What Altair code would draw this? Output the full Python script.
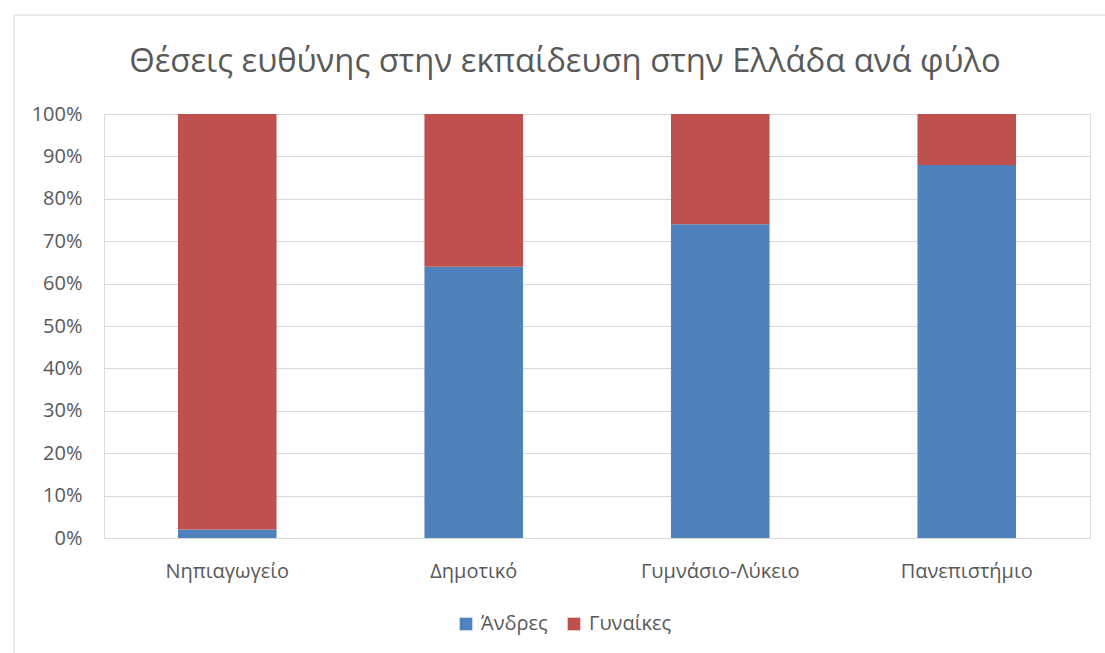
import altair as alt
import pandas as pd

categories = ["Νηπιαγωγείο", "Δημοτικό", "Γυμνάσιο-Λύκειο", "Πανεπιστήμιο"]
men = [2, 64, 74, 88]
women = [98, 36, 26, 12]
series = ["Άνδρες", "Γυναίκες"]
colors = ["#4f81bd", "#c0504d"]
title_text = "Θέσεις ευθύνης στην εκπαίδευση στην Ελλάδα ανά φύλο"
y_ticks = [0, 0.1, 0.2, 0.3, 0.4, 0.5, 0.6, 0.7, 0.8, 0.9, 1.0]

rows = []
for c, m, w in zip(categories, men, women):
    rows.append({"cat": c, "series": series[0], "value": m, "ord": 0})
    rows.append({"cat": c, "series": series[1], "value": w, "ord": 1})
df = pd.DataFrame(rows)

FONT = "Open Sans"
GREY = "#595959"

bars = alt.Chart(df).mark_bar().encode(
    x=alt.X("cat:N", sort=categories, title=None,
            scale=alt.Scale(paddingInner=0.6, paddingOuter=0.3),
            axis=alt.Axis(labelAngle=0, ticks=False, domainColor="#d9d9d9",
                          labelPadding=23, labelFontSize=20, labelColor=GREY,
                          labelFont=FONT, grid=False)),
    y=alt.Y("value:Q", stack="normalize", title=None,
            scale=alt.Scale(domain=[0, 1], nice=False),
            axis=alt.Axis(format=".0%", values=y_ticks, labelOverlap=False,
                          ticks=False, domain=False, gridColor="#d9d9d9",
                          labelPadding=22, labelFontSize=20, labelColor=GREY,
                          labelFont=FONT)),
    color=alt.Color("series:N", sort=series,
                    scale=alt.Scale(domain=series, range=colors),
                    legend=alt.Legend(title=None, orient="none", direction="horizontal",
                                      legendX=352, legendY=500, symbolType="square",
                                      symbolSize=160, symbolStrokeWidth=0,
                                      labelFontSize=20, labelColor=GREY, labelFont=FONT,
                                      columnPadding=16, labelOffset=5)),
    order=alt.Order("ord:Q"),
)

frame = alt.Chart().mark_rect(fill=None, stroke="#d9d9d9", strokeWidth=1).encode(
    x=alt.value(-90), x2=alt.value(1010), y=alt.value(-99), y2=alt.value(560)
)

title = alt.Chart(pd.DataFrame({"t": [title_text]})).mark_text(
    font=FONT, fontSize=32.8, color=GREY, align="center", baseline="alphabetic"
).encode(text="t:N", x=alt.value(461), y=alt.value(-42))

chart = alt.layer(frame, bars, title).properties(
    width=986, height=424,
    autosize=alt.AutoSizeParams(type="none"),
    padding={"left": 104, "top": 114, "right": 15, "bottom": 115},
).configure_view(stroke=None).configure(background="white")

chart.save("out.html", embed_options={"renderer": "svg", "actions": False})
